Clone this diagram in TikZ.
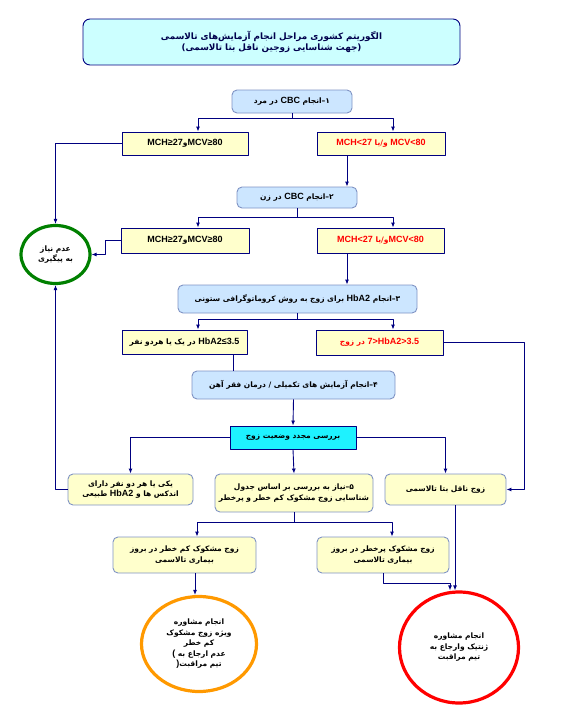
\documentclass[tikz,border=0pt]{standalone}
\usepackage{fontspec}
\usetikzlibrary{arrows.meta,positioning,calc,shapes.geometric}
\TeXXeTstate=1
\newfontfamily\arabicfont[Script=Arabic]{DejaVu Sans}
\newfontfamily\latinfont{Liberation Sans}
\definecolor{lineblue}{HTML}{000080}
\definecolor{stepdraw}{HTML}{7F93C4}
\definecolor{stepfill}{HTML}{CCE6FF}
\definecolor{titlefill}{HTML}{CCFFFF}
\definecolor{notefill}{HTML}{FFFFCC}
\definecolor{checkfill}{HTML}{1EF2FF}
\definecolor{okgreen}{HTML}{008000}
\definecolor{warnorange}{HTML}{FF9900}
\definecolor{alertred}{HTML}{FF0000}
\newcommand{\fa}[1]{{\arabicfont\bfseries\beginR #1\endR}}
\newcommand{\la}[1]{\beginL{\latinfont\bfseries\fontsize{9}{10}\selectfont #1}\endL}

\begin{document}
\begin{tikzpicture}[
		x=1pt,
		y=-1pt,
		>={Latex[length=5pt,width=4pt]},
		line join=round,
		wh/.style 2 args={minimum width=#1pt,minimum height=#2pt},
		link/.style={draw=lineblue,line width=0.9pt},
		arr/.style={link,->},
		txt/.style={inner sep=0pt,align=center,font=\fontsize{7.5}{10.5}\selectfont},
		titlebox/.style={txt,draw=lineblue,fill=titlefill,rounded corners=7pt,line width=0.9pt,font=\fontsize{8.8}{11.5}\selectfont,text=lineblue!60!black},
		stepbox/.style={txt,draw=stepdraw,fill=stepfill,rounded corners=5pt,line width=0.9pt},
		resultbox/.style={txt,draw=lineblue,fill=notefill,line width=0.9pt},
		outcomebox/.style={txt,draw=stepdraw,fill=notefill,rounded corners=5pt,line width=0.9pt},
		checkbox/.style={txt,draw=lineblue,fill=checkfill,line width=0.9pt},
		endcircle/.style={txt,ellipse,fill=white,line width=3.2pt}
	]
	\useasboundingbox (0,0) rectangle (566,709);
	
	% Title
	\node[titlebox,wh={377}{46}] (title) at (271.5,42)
	{\fa{الگوریتم کشوری مراحل انجام آزمایش‌های تالاسمی}\\\fa{(جهت شناسایی زوجین ناقل بتا تالاسمی)}};
	
	% Step 1: CBC of the man
	\node[stepbox,wh={120}{23}] (cbcman) at (292,101.5) {\fa{۱–انجام \la{CBC} در مرد}};
	\node[resultbox,wh={126}{23}] (normman) at (185,143.5) {\fa{\la{MCV≥80}و\la{MCH≥27}}};
	\node[resultbox,wh={128}{23},text=alertred] (lowman) at (381,143.5) {\fa{\la{MCV<80} و/یا \la{MCH<27}}};
	
	% Step 2: CBC of the woman
	\node[stepbox,wh={120}{21}] (cbcwoman) at (297,197.5) {\fa{۲–انجام \la{CBC} در زن}};
	\node[resultbox,wh={128}{25}] (normwoman) at (185,240.5) {\fa{\la{MCV≥80}و\la{MCH≥27}}};
	\node[resultbox,wh={127}{25},text=alertred] (lowwoman) at (380.5,240.5) {\fa{\la{MCV<80}و/یا \la{MCH<27}}};
	
	% No follow-up needed
	\node[endcircle,draw=okgreen,wh={69}{58}] (noneed) at (55.5,254.5) {\fa{عدم نیاز}\\\fa{به پیگیری}};
	
	% Step 3: HbA2
	\node[stepbox,wh={239}{28}] (hbtest) at (297.5,299) {\fa{۳–انجام \la{HbA2} برای زوج به روش کروماتوگرافی ستونی}};
	\node[resultbox,wh={125}{24}] (hbnorm) at (184.5,342) {\fa{\la{HbA2≤3.5} در یک یا هردو نفر}};
	\node[resultbox,wh={127}{25},text=alertred] (hbhigh) at (379.5,342.5) {\fa{\la{7>HbA2>3.5} در زوج}};
	
	% Step 4: further tests
	\node[stepbox,wh={203}{28}] (ironbox) at (293.5,385) {\fa{۴–انجام آزمایش های تکمیلی / درمان فقر آهن}};
	\node[checkbox,wh={126}{23}] (recheck) at (293,437.5) {\fa{بررسی مجدد وضعیت زوج}};
	
	% Re-check outcomes
	\node[outcomebox,wh={125}{31}] (bothnormal) at (130.5,489.5)
	{\fa{یکی یا هر دو نفر دارای}\\\fa{اندکس ها و \la{HbA2} طبیعی}};
	\node[outcomebox,wh={158}{38}] (riskcheck) at (294,493)
	{\fa{۵–نیاز به بررسی بر اساس جدول}\\\fa{شناسایی زوج مشکوک کم خطر و پرخطر}};
	\node[outcomebox,wh={121}{31}] (carrier) at (445.5,489.5) {\fa{زوج ناقل بتا تالاسمی}};
	
	% Risk groups
	\node[outcomebox,wh={143}{36}] (lowrisk) at (184.5,555)
	{\fa{زوج مشکوک کم خطر در بروز}\\\fa{بیماری تالاسمی}};
	\node[outcomebox,wh={132}{36}] (highrisk) at (383,555)
	{\fa{زوج مشکوک پرخطر در بروز}\\\fa{بیماری تالاسمی}};
	
	% Counselling
	\node[endcircle,draw=warnorange,wh={115}{95}] (counsellow) at (199,644)
	{\fa{انجام مشاوره}\\\fa{ویژه زوج مشکوک}\\\fa{کم خطر}\\\fa{عدم ارجاع به \la{(}}\\\fa{تیم مراقبت\la{)}}};
	\node[endcircle,draw=alertred,wh={119}{111}] (counselhigh) at (459,647.5)
	{\fa{انجام مشاوره}\\\fa{ژنتیک وارجاع به}\\\fa{تیم مراقبت}};
	
	% Connectors, step 1
	\draw[link] (cbcman.south) -- ++(0,5) coordinate (split1);
	\draw[arr] (split1) -| ([xshift=13pt]normman.north);
	\draw[arr] (split1) -| ([xshift=12pt]lowman.north);
	\draw[arr] (normman.west) -| (noneed.north);
	\draw[arr] ([xshift=-34pt]lowman.south) -- ([xshift=-34pt]lowman.south |- cbcwoman.north);
	
	% Connectors, step 2
	\draw[link] (cbcwoman.south) -- ++(0,9) coordinate (split2);
	\draw[arr] (split2) -| ([xshift=13pt]normwoman.north);
	\draw[arr] (split2) -| ([xshift=12.5pt]lowwoman.north);
	\draw[arr] (normwoman.west) -- ++(-15,0) |- (noneed.east);
	\draw[arr] ([xshift=-33.5pt]lowwoman.south) -- ([xshift=-33.5pt]lowwoman.south |- hbtest.north);
	
	% Connectors, step 3
	\draw[link] (hbtest.south) -- ++(0,6) coordinate (split3);
	\draw[arr] (split3) -| ([xshift=13.5pt]hbnorm.north);
	\draw[arr] (split3) -| ([xshift=13.5pt]hbhigh.north);
	\draw[arr] (hbhigh.east) -- ++(81,0) |- (carrier.east);
	\draw[link] ([xshift=48.5pt]hbnorm.south) -- ([xshift=48.5pt]hbnorm.south |- ironbox.north);
	
	% Connectors, step 4 and re-check
	\draw[arr] (ironbox.south) -- (recheck.north);
	\draw[arr] (recheck.west) -| (bothnormal.north);
	\draw[arr] (recheck.east) -| (carrier.north);
	\draw[arr] (recheck.south) -- (riskcheck.north);
	\draw[arr] (bothnormal.west) -| (noneed.south);
	
	% Connectors, step 5
	\draw[link] (riskcheck.south) -- ++(0,10) coordinate (split5);
	\draw[arr] (split5) -| ([xshift=12.5pt]lowrisk.north);
	\draw[arr] (split5) -| ([xshift=9pt]highrisk.north);
	\draw[arr] ([xshift=10.5pt]lowrisk.south) -- ([xshift=10.5pt]lowrisk.south |- counsellow.north);
	\draw[arr] (highrisk.south) -- ++(0,10) -| ([xshift=-9pt]counselhigh.north);
	\draw[arr] ([xshift=9.5pt]carrier.south) -- ([xshift=9.5pt]carrier.south |- counselhigh.north);
	
\end{tikzpicture}
\end{document}
